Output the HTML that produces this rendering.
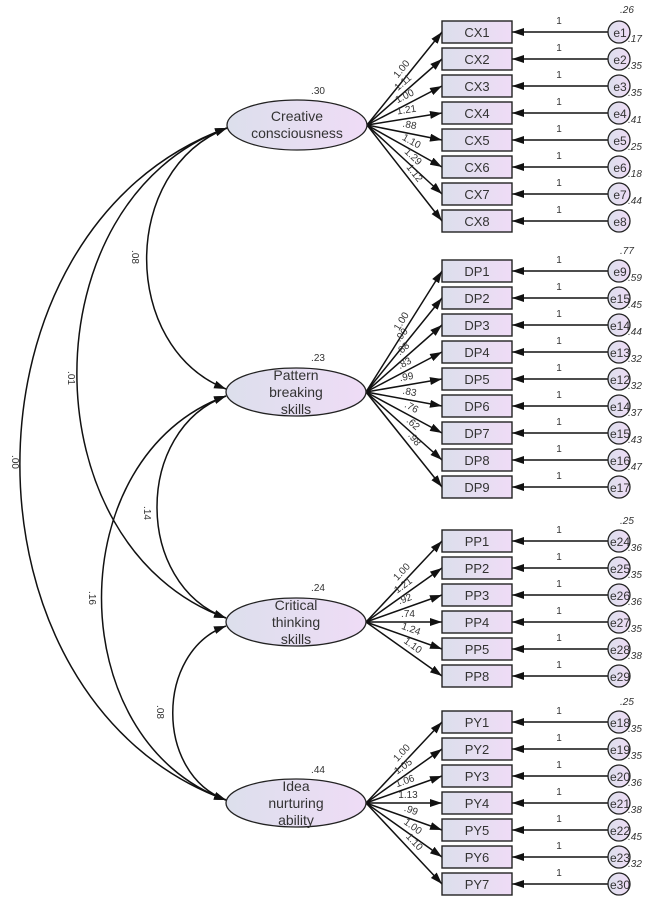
<!DOCTYPE html>
<html><head><meta charset="utf-8"><style>
html,body{margin:0;padding:0;background:#fff;}
svg{display:block;font-family:"Liberation Sans",sans-serif;}
.bx{fill:url(#g);stroke:#222;stroke-width:1.4}
.bt{font-size:13px;fill:#333;text-anchor:middle}
.lt{font-size:14px;fill:#333;text-anchor:middle}
.ln{stroke:#111;stroke-width:1.5;fill:none}
.sm{font-size:10px;fill:#333;text-anchor:middle}
.it{font-size:10px;fill:#333;font-style:italic}
.ci{fill:url(#g);stroke:#222;stroke-width:1.3}
.et{font-size:12px;fill:#333;text-anchor:middle}
</style></head><body>
<svg width="648" height="898" viewBox="0 0 648 898" xmlns="http://www.w3.org/2000/svg">
<defs>
<linearGradient id="g" x1="0" x2="1" y1="0" y2="0"><stop offset="0" stop-color="#dcdfec"/><stop offset="1" stop-color="#efdcf6"/></linearGradient>
<marker id="a" viewBox="0 0 12 8" refX="12" refY="4" markerWidth="12" markerHeight="8" markerUnits="userSpaceOnUse" orient="auto-start-reverse"><path d="M0,0 L12,4 L0,8 z" fill="#111"/></marker>
</defs>

<g class="ln" marker-start="url(#a)" marker-end="url(#a)">
<path d="M227,128 C120,170 120,347 226,389"/>
<path d="M227,128 C27,200 27,546 226,618"/>
<path d="M227,128 C-49,228 -49,700 226,800"/>
<path d="M226,396 C134,430 134,584 226,618"/>
<path d="M226,396 C60,456 60,740 226,800"/>
<path d="M226,626 C155,652 155,774 226,800"/>
</g>
<g class="sm">
<text transform="translate(132,257) rotate(90)">.08</text>
<text transform="translate(68,378) rotate(90)">.01</text>
<text transform="translate(12,462) rotate(90)">.00</text>
<text transform="translate(144,513) rotate(90)">.14</text>
<text transform="translate(89,598) rotate(90)">.16</text>
<text transform="translate(157,712) rotate(90)">.08</text>
</g>

<g class="ln" marker-end="url(#a)">
<line x1="367" y1="125" x2="442" y2="32"/><line x1="367" y1="125" x2="442" y2="59"/><line x1="367" y1="125" x2="442" y2="86"/><line x1="367" y1="125" x2="442" y2="113"/><line x1="367" y1="125" x2="442" y2="140"/><line x1="367" y1="125" x2="442" y2="167"/><line x1="367" y1="125" x2="442" y2="194"/><line x1="367" y1="125" x2="442" y2="221"/>
<line x1="366" y1="392" x2="442" y2="271"/><line x1="366" y1="392" x2="442" y2="298"/><line x1="366" y1="392" x2="442" y2="325"/><line x1="366" y1="392" x2="442" y2="352"/><line x1="366" y1="392" x2="442" y2="379"/><line x1="366" y1="392" x2="442" y2="406"/><line x1="366" y1="392" x2="442" y2="433"/><line x1="366" y1="392" x2="442" y2="460"/><line x1="366" y1="392" x2="442" y2="487"/>
<line x1="366" y1="622" x2="442" y2="541"/><line x1="366" y1="622" x2="442" y2="568"/><line x1="366" y1="622" x2="442" y2="595"/><line x1="366" y1="622" x2="442" y2="622"/><line x1="366" y1="622" x2="442" y2="649"/><line x1="366" y1="622" x2="442" y2="676"/>
<line x1="366" y1="803" x2="442" y2="722"/><line x1="366" y1="803" x2="442" y2="749"/><line x1="366" y1="803" x2="442" y2="776"/><line x1="366" y1="803" x2="442" y2="803"/><line x1="366" y1="803" x2="442" y2="830"/><line x1="366" y1="803" x2="442" y2="857"/><line x1="366" y1="803" x2="442" y2="884"/>
</g>
<g class="sm">
<text transform="translate(404,71) rotate(-51)">1.00</text>
<text transform="translate(405,85) rotate(-41)">1.11</text>
<text transform="translate(406,99) rotate(-27)">1.00</text>
<text transform="translate(407,113) rotate(-9)">1.21</text>
<text transform="translate(409,128) rotate(11)">.88</text>
<text transform="translate(410,144) rotate(29)">1.10</text>
<text transform="translate(411,159) rotate(43)">1.29</text>
<text transform="translate(412,175) rotate(52)">1.12</text>

<text transform="translate(404,323) rotate(-58)">1.00</text>
<text transform="translate(404,337) rotate(-51)">.90</text>
<text transform="translate(405,351) rotate(-42)">.88</text>
<text transform="translate(406,366) rotate(-28)">.83</text>
<text transform="translate(407,380) rotate(-10)">.99</text>
<text transform="translate(409,395) rotate(11)">.83</text>
<text transform="translate(410,410) rotate(29)">.76</text>
<text transform="translate(411,426) rotate(42)">.62</text>
<text transform="translate(412,441) rotate(52)">.98</text>

<text transform="translate(404,574) rotate(-47)">1.00</text>
<text transform="translate(405,588) rotate(-36)">1.21</text>
<text transform="translate(406,602) rotate(-20)">.92</text>
<text transform="translate(408,617)">.74</text>
<text transform="translate(410,632) rotate(20)">1.24</text>
<text transform="translate(411,648) rotate(36)">1.10</text>

<text transform="translate(404,755) rotate(-47)">1.00</text>
<text transform="translate(405,769) rotate(-36)">1.05</text>
<text transform="translate(406,784) rotate(-20)">1.06</text>
<text transform="translate(408,798)">1.13</text>
<text transform="translate(410,813) rotate(20)">.99</text>
<text transform="translate(411,829) rotate(36)">1.00</text>
<text transform="translate(412,844) rotate(47)">1.10</text>
</g>

<ellipse cx="297" cy="125" rx="70" ry="25" class="ci" stroke-width="1.5"/>
<text x="297" y="121" class="lt">Creative</text><text x="297" y="138" class="lt">consciousness</text>
<text x="318" y="94" class="sm">.30</text>
<ellipse cx="296" cy="392" rx="70" ry="24" class="ci" stroke-width="1.5"/>
<text x="296" y="380" class="lt">Pattern</text><text x="296" y="397" class="lt">breaking</text><text x="296" y="414" class="lt">skills</text>
<text x="318" y="361" class="sm">.23</text>
<ellipse cx="296" cy="622" rx="70" ry="24" class="ci" stroke-width="1.5"/>
<text x="296" y="610" class="lt">Critical</text><text x="296" y="627" class="lt">thinking</text><text x="296" y="644" class="lt">skills</text>
<text x="318" y="591" class="sm">.24</text>
<ellipse cx="296" cy="803" rx="70" ry="24" class="ci" stroke-width="1.5"/>
<text x="296" y="791" class="lt">Idea</text><text x="296" y="808" class="lt">nurturing</text><text x="296" y="825" class="lt">ability</text>
<text x="318" y="773" class="sm">.44</text>

<g class="ln" marker-end="url(#a)">
<line x1="608" y1="32" x2="512" y2="32"/><line x1="608" y1="59" x2="512" y2="59"/><line x1="608" y1="86" x2="512" y2="86"/><line x1="608" y1="113" x2="512" y2="113"/><line x1="608" y1="140" x2="512" y2="140"/><line x1="608" y1="167" x2="512" y2="167"/><line x1="608" y1="194" x2="512" y2="194"/><line x1="608" y1="221" x2="512" y2="221"/>
<line x1="608" y1="271" x2="512" y2="271"/><line x1="608" y1="298" x2="512" y2="298"/><line x1="608" y1="325" x2="512" y2="325"/><line x1="608" y1="352" x2="512" y2="352"/><line x1="608" y1="379" x2="512" y2="379"/><line x1="608" y1="406" x2="512" y2="406"/><line x1="608" y1="433" x2="512" y2="433"/><line x1="608" y1="460" x2="512" y2="460"/><line x1="608" y1="487" x2="512" y2="487"/>
<line x1="608" y1="541" x2="512" y2="541"/><line x1="608" y1="568" x2="512" y2="568"/><line x1="608" y1="595" x2="512" y2="595"/><line x1="608" y1="622" x2="512" y2="622"/><line x1="608" y1="649" x2="512" y2="649"/><line x1="608" y1="676" x2="512" y2="676"/>
<line x1="608" y1="722" x2="512" y2="722"/><line x1="608" y1="749" x2="512" y2="749"/><line x1="608" y1="776" x2="512" y2="776"/><line x1="608" y1="803" x2="512" y2="803"/><line x1="608" y1="830" x2="512" y2="830"/><line x1="608" y1="857" x2="512" y2="857"/><line x1="608" y1="884" x2="512" y2="884"/>
</g>
<g class="sm" font-size="11">
<text x="559" y="24">1</text><text x="559" y="51">1</text><text x="559" y="78">1</text><text x="559" y="105">1</text><text x="559" y="132">1</text><text x="559" y="159">1</text><text x="559" y="186">1</text><text x="559" y="213">1</text>
<text x="559" y="263">1</text><text x="559" y="290">1</text><text x="559" y="317">1</text><text x="559" y="344">1</text><text x="559" y="371">1</text><text x="559" y="398">1</text><text x="559" y="425">1</text><text x="559" y="452">1</text><text x="559" y="479">1</text>
<text x="559" y="533">1</text><text x="559" y="560">1</text><text x="559" y="587">1</text><text x="559" y="614">1</text><text x="559" y="641">1</text><text x="559" y="668">1</text>
<text x="559" y="714">1</text><text x="559" y="741">1</text><text x="559" y="768">1</text><text x="559" y="795">1</text><text x="559" y="822">1</text><text x="559" y="849">1</text><text x="559" y="876">1</text>
</g>

<g>
<rect x="442" y="21" width="70" height="22" class="bx"/><text x="477" y="37" class="bt">CX1</text>
<rect x="442" y="48" width="70" height="22" class="bx"/><text x="477" y="64" class="bt">CX2</text>
<rect x="442" y="75" width="70" height="22" class="bx"/><text x="477" y="91" class="bt">CX3</text>
<rect x="442" y="102" width="70" height="22" class="bx"/><text x="477" y="118" class="bt">CX4</text>
<rect x="442" y="129" width="70" height="22" class="bx"/><text x="477" y="145" class="bt">CX5</text>
<rect x="442" y="156" width="70" height="22" class="bx"/><text x="477" y="172" class="bt">CX6</text>
<rect x="442" y="183" width="70" height="22" class="bx"/><text x="477" y="199" class="bt">CX7</text>
<rect x="442" y="210" width="70" height="22" class="bx"/><text x="477" y="226" class="bt">CX8</text>

<rect x="442" y="260" width="70" height="22" class="bx"/><text x="477" y="276" class="bt">DP1</text>
<rect x="442" y="287" width="70" height="22" class="bx"/><text x="477" y="303" class="bt">DP2</text>
<rect x="442" y="314" width="70" height="22" class="bx"/><text x="477" y="330" class="bt">DP3</text>
<rect x="442" y="341" width="70" height="22" class="bx"/><text x="477" y="357" class="bt">DP4</text>
<rect x="442" y="368" width="70" height="22" class="bx"/><text x="477" y="384" class="bt">DP5</text>
<rect x="442" y="395" width="70" height="22" class="bx"/><text x="477" y="411" class="bt">DP6</text>
<rect x="442" y="422" width="70" height="22" class="bx"/><text x="477" y="438" class="bt">DP7</text>
<rect x="442" y="449" width="70" height="22" class="bx"/><text x="477" y="465" class="bt">DP8</text>
<rect x="442" y="476" width="70" height="22" class="bx"/><text x="477" y="492" class="bt">DP9</text>

<rect x="442" y="530" width="70" height="22" class="bx"/><text x="477" y="546" class="bt">PP1</text>
<rect x="442" y="557" width="70" height="22" class="bx"/><text x="477" y="573" class="bt">PP2</text>
<rect x="442" y="584" width="70" height="22" class="bx"/><text x="477" y="600" class="bt">PP3</text>
<rect x="442" y="611" width="70" height="22" class="bx"/><text x="477" y="627" class="bt">PP4</text>
<rect x="442" y="638" width="70" height="22" class="bx"/><text x="477" y="654" class="bt">PP5</text>
<rect x="442" y="665" width="70" height="22" class="bx"/><text x="477" y="681" class="bt">PP8</text>

<rect x="442" y="711" width="70" height="22" class="bx"/><text x="477" y="727" class="bt">PY1</text>
<rect x="442" y="738" width="70" height="22" class="bx"/><text x="477" y="754" class="bt">PY2</text>
<rect x="442" y="765" width="70" height="22" class="bx"/><text x="477" y="781" class="bt">PY3</text>
<rect x="442" y="792" width="70" height="22" class="bx"/><text x="477" y="808" class="bt">PY4</text>
<rect x="442" y="819" width="70" height="22" class="bx"/><text x="477" y="835" class="bt">PY5</text>
<rect x="442" y="846" width="70" height="22" class="bx"/><text x="477" y="862" class="bt">PY6</text>
<rect x="442" y="873" width="70" height="22" class="bx"/><text x="477" y="889" class="bt">PY7</text>
</g>

<g>
<circle cx="619" cy="32" r="11" class="ci"/><text x="620" y="37" class="et">e1</text>
<circle cx="619" cy="59" r="11" class="ci"/><text x="620" y="64" class="et">e2</text>
<circle cx="619" cy="86" r="11" class="ci"/><text x="620" y="91" class="et">e3</text>
<circle cx="619" cy="113" r="11" class="ci"/><text x="620" y="118" class="et">e4</text>
<circle cx="619" cy="140" r="11" class="ci"/><text x="620" y="145" class="et">e5</text>
<circle cx="619" cy="167" r="11" class="ci"/><text x="620" y="172" class="et">e6</text>
<circle cx="619" cy="194" r="11" class="ci"/><text x="620" y="199" class="et">e7</text>
<circle cx="619" cy="221" r="11" class="ci"/><text x="620" y="226" class="et">e8</text>

<circle cx="619" cy="271" r="11" class="ci"/><text x="620" y="276" class="et">e9</text>
<circle cx="619" cy="298" r="11" class="ci"/><text x="620" y="303" class="et">e15</text>
<circle cx="619" cy="325" r="11" class="ci"/><text x="620" y="330" class="et">e14</text>
<circle cx="619" cy="352" r="11" class="ci"/><text x="620" y="357" class="et">e13</text>
<circle cx="619" cy="379" r="11" class="ci"/><text x="620" y="384" class="et">e12</text>
<circle cx="619" cy="406" r="11" class="ci"/><text x="620" y="411" class="et">e14</text>
<circle cx="619" cy="433" r="11" class="ci"/><text x="620" y="438" class="et">e15</text>
<circle cx="619" cy="460" r="11" class="ci"/><text x="620" y="465" class="et">e16</text>
<circle cx="619" cy="487" r="11" class="ci"/><text x="620" y="492" class="et">e17</text>

<circle cx="619" cy="541" r="11" class="ci"/><text x="620" y="546" class="et">e24</text>
<circle cx="619" cy="568" r="11" class="ci"/><text x="620" y="573" class="et">e25</text>
<circle cx="619" cy="595" r="11" class="ci"/><text x="620" y="600" class="et">e26</text>
<circle cx="619" cy="622" r="11" class="ci"/><text x="620" y="627" class="et">e27</text>
<circle cx="619" cy="649" r="11" class="ci"/><text x="620" y="654" class="et">e28</text>
<circle cx="619" cy="676" r="11" class="ci"/><text x="620" y="681" class="et">e29</text>

<circle cx="619" cy="722" r="11" class="ci"/><text x="620" y="727" class="et">e18</text>
<circle cx="619" cy="749" r="11" class="ci"/><text x="620" y="754" class="et">e19</text>
<circle cx="619" cy="776" r="11" class="ci"/><text x="620" y="781" class="et">e20</text>
<circle cx="619" cy="803" r="11" class="ci"/><text x="620" y="808" class="et">e21</text>
<circle cx="619" cy="830" r="11" class="ci"/><text x="620" y="835" class="et">e22</text>
<circle cx="619" cy="857" r="11" class="ci"/><text x="620" y="862" class="et">e23</text>
<circle cx="619" cy="884" r="11" class="ci"/><text x="620" y="889" class="et">e30</text>
</g>
<g class="it">
<text x="620" y="13">.26</text><text x="620" y="254">.77</text><text x="620" y="524">.25</text><text x="620" y="705">.25</text>
<text x="628" y="42">.17</text><text x="628" y="69">.35</text><text x="628" y="96">.35</text><text x="628" y="123">.41</text><text x="628" y="150">.25</text><text x="628" y="177">.18</text><text x="628" y="204">.44</text>
<text x="628" y="281">.59</text><text x="628" y="308">.45</text><text x="628" y="335">.44</text><text x="628" y="362">.32</text><text x="628" y="389">.32</text><text x="628" y="416">.37</text><text x="628" y="443">.43</text><text x="628" y="470">.47</text>
<text x="628" y="551">.36</text><text x="628" y="578">.35</text><text x="628" y="605">.36</text><text x="628" y="632">.35</text><text x="628" y="659">.38</text>
<text x="628" y="732">.35</text><text x="628" y="759">.35</text><text x="628" y="786">.36</text><text x="628" y="813">.38</text><text x="628" y="840">.45</text><text x="628" y="867">.32</text>
</g>
</svg>
</body></html>
